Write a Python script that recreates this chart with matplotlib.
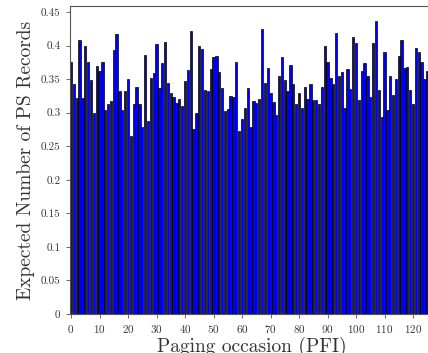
import numpy as np
import matplotlib
matplotlib.use("Agg")
import matplotlib.pyplot as plt

# valores (PFI 0..125, lo demas queda fuera de la imagen)
valores = [
    0.376, 0.343, 0.322, 0.409, 0.322, 0.400, 0.375, 0.349, 0.299, 0.369,
    0.362, 0.375, 0.304, 0.313, 0.317, 0.394, 0.418, 0.332, 0.304, 0.333,
    0.350, 0.265, 0.313, 0.339, 0.313, 0.279, 0.386, 0.288, 0.351, 0.359,
    0.402, 0.337, 0.374, 0.405, 0.344, 0.329, 0.324, 0.314, 0.320, 0.310,
    0.347, 0.364, 0.422, 0.275, 0.300, 0.399, 0.395, 0.334, 0.332, 0.365,
    0.383, 0.384, 0.360, 0.337, 0.302, 0.305, 0.325, 0.323, 0.375, 0.272,
    0.291, 0.307, 0.337, 0.279, 0.318, 0.314, 0.320, 0.425, 0.344, 0.366,
    0.330, 0.316, 0.297, 0.354, 0.383, 0.349, 0.332, 0.371, 0.343, 0.313,
    0.329, 0.307, 0.339, 0.321, 0.343, 0.319, 0.319, 0.313, 0.339, 0.399,
    0.376, 0.352, 0.343, 0.419, 0.354, 0.361, 0.307, 0.365, 0.335, 0.413,
    0.404, 0.319, 0.362, 0.374, 0.354, 0.323, 0.404, 0.437, 0.334, 0.293,
    0.391, 0.304, 0.355, 0.326, 0.350, 0.385, 0.408, 0.367, 0.368, 0.334,
    0.313, 0.396, 0.390, 0.376, 0.350, 0.362,
]
pfi = np.arange(len(valores))

plt.rcParams["font.family"] = ["cmr10", "DejaVu Serif"]
plt.rcParams["axes.formatter.use_mathtext"] = True

fig = plt.figure(figsize=(4.28, 3.53), dpi=100)
ax = fig.add_axes([0.1626, 0.1105, 364.8 / 428, 308 / 353])

ax.bar(pfi, valores, width=0.8, color="#0000f5", edgecolor="black", linewidth=0.5)

ax.set_xlim(-0.5, 127.5)
ax.set_ylim(0, 0.459)
ax.set_xticks(np.arange(0, 121, 10))
ax.set_yticks(np.arange(0, 0.451, 0.05))
ax.set_yticklabels(["0", "0.05", "0.1", "0.15", "0.2", "0.25", "0.3", "0.35", "0.4", "0.45"])

for s in ax.spines.values():
    s.set_color("#555555")
    s.set_linewidth(0.8)
ax.tick_params(labelsize=8, colors="#555555", labelcolor="#333333", length=3, width=0.6)

ax.set_xlabel("Paging occasion (PFI)", fontsize=14, color="#333333", labelpad=1)
ax.set_ylabel("Expected Number of PS Records", fontsize=14, color="#333333", labelpad=4)

fig.savefig("out.png", dpi=100)
